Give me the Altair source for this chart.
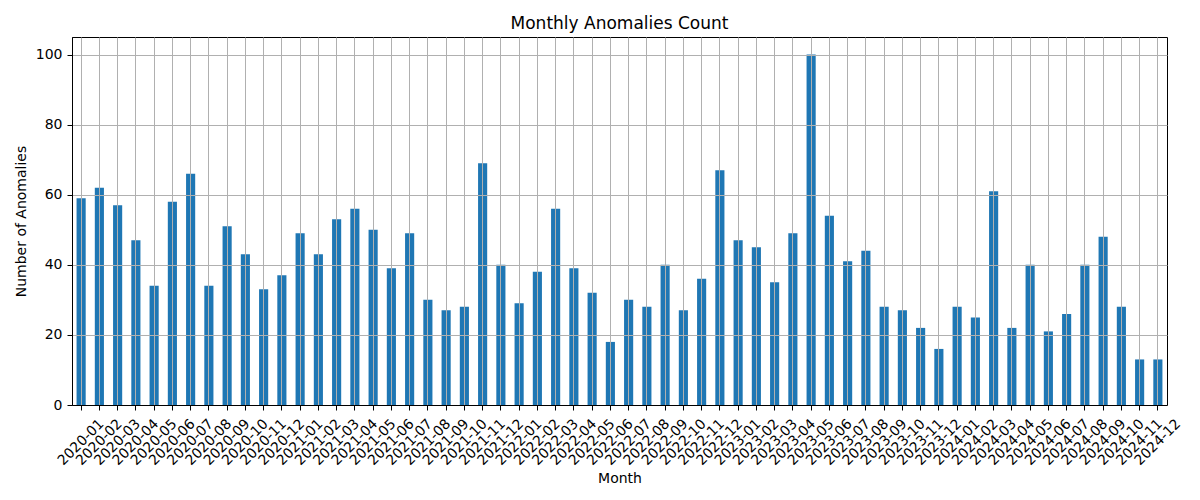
import altair as alt
import pandas as pd

months = [
    "2020-01", "2020-02", "2020-03", "2020-04", "2020-05", "2020-06",
    "2020-07", "2020-08", "2020-09", "2020-10", "2020-11", "2020-12",
    "2021-01", "2021-02", "2021-03", "2021-04", "2021-05", "2021-06",
    "2021-07", "2021-08", "2021-09", "2021-10", "2021-11", "2021-12",
    "2022-01", "2022-02", "2022-03", "2022-04", "2022-05", "2022-06",
    "2022-07", "2022-08", "2022-09", "2022-10", "2022-11", "2022-12",
    "2023-01", "2023-02", "2023-03", "2023-04", "2023-05", "2023-06",
    "2023-07", "2023-08", "2023-09", "2023-10", "2023-11", "2023-12",
    "2024-01", "2024-02", "2024-03", "2024-04", "2024-05", "2024-06",
    "2024-07", "2024-08", "2024-09", "2024-10", "2024-11", "2024-12",
]
counts = [
    59, 62, 57, 47, 34, 58, 66, 34, 51, 43, 33, 37,
    49, 43, 53, 56, 50, 39, 49, 30, 27, 28, 69, 40,
    29, 38, 56, 39, 32, 18, 30, 28, 40, 27, 36, 67,
    47, 45, 35, 49, 100, 54, 41, 44, 28, 27, 22, 16,
    28, 25, 61, 22, 40, 21, 26, 40, 48, 28, 13, 13,
]
y_ticks = [0, 20, 40, 60, 80, 100]

df = pd.DataFrame({"Month": months, "Count": counts})

FONT = "DejaVu Sans"

chart = alt.Chart(df).mark_bar(color="#1f77b4").encode(
    x=alt.X(
        "Month:N",
        sort=months,
        scale=alt.Scale(paddingInner=0.5, paddingOuter=0.25),
        axis=alt.Axis(
            title="Month",
            labelAngle=-45,
            labelAlign="center",
            labelBaseline="middle",
            labelPadding=32,
            labelOverlap=False,
            labelFont=FONT,
            labelFontSize=14,
            labelColor="black",
            tickSize=5,
            tickColor="black",
            bandPosition=0.5,
            grid=True,
            gridColor="#b0b0b0",
            gridWidth=1,
            domainColor="black",
            titleFont=FONT,
            titleFontSize=14,
            titleFontWeight="normal",
            titleColor="black",
            titleY=66,
            titleBaseline="top",
            zindex=1,
        ),
    ),
    y=alt.Y(
        "Count:Q",
        scale=alt.Scale(domain=[0, 105], nice=False),
        axis=alt.Axis(
            title="Number of Anomalies",
            values=y_ticks,
            labelFont=FONT,
            labelFontSize=14,
            labelColor="black",
            labelPadding=5,
            tickSize=5,
            tickColor="black",
            grid=True,
            gridColor="#b0b0b0",
            gridWidth=1,
            domainColor="black",
            titleFont=FONT,
            titleFontSize=14,
            titleFontWeight="normal",
            titleColor="black",
            titleX=-51,
            titleBaseline="middle",
            zindex=1,
        ),
    ),
).properties(
    width=1095,
    height=368,
    title=alt.Title(
        "Monthly Anomalies Count",
        font=FONT,
        fontSize=17,
        fontWeight="normal",
        color="black",
        offset=4,
    ),
    autosize=alt.AutoSizeParams(type="none"),
    padding={"left": 64, "top": 29, "right": 20, "bottom": 80},
).configure_view(stroke="black", strokeWidth=1)

chart.save("out.html", embed_options={"renderer": "svg", "actions": False})
